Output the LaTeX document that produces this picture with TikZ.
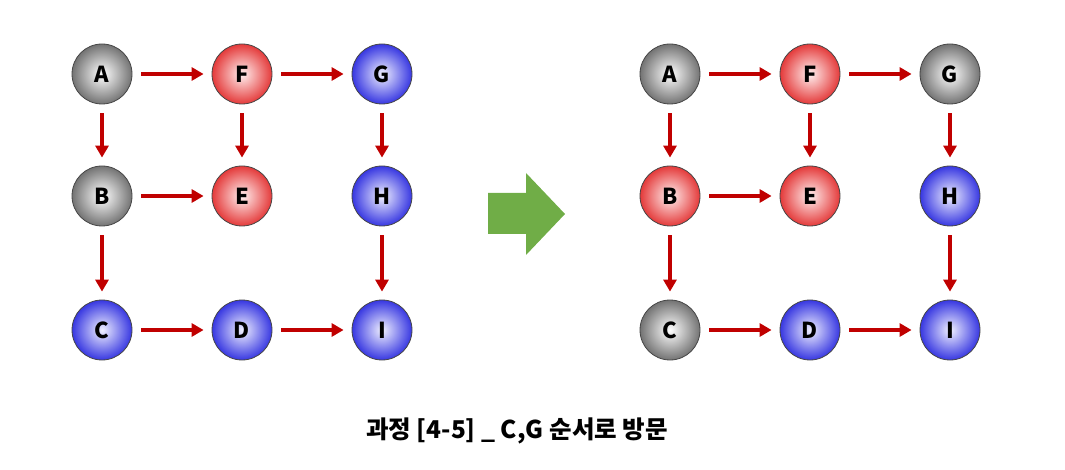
\documentclass[tikz,border=0pt]{standalone}
\usepackage{fontspec}
\newfontfamily\kr{Noto Sans CJK KR}
\usetikzlibrary{arrows.meta}
\definecolor{arrred}{RGB}{192,0,0}
\definecolor{bigarrow}{RGB}{112,173,71}
\definecolor{nodeedge}{RGB}{70,70,70}
\tikzset{
  vnode/.style={circle, minimum size=60pt, inner sep=0pt, draw=nodeedge, line width=0.8pt,
    shading=radial, font=\kr\bfseries\fontsize{22}{22}\selectfont},
  graynode/.style={vnode, inner color=white, outer color={rgb,255:red,115;green,115;blue,115}},
  rednode/.style={vnode, inner color={rgb,255:red,255;green,240;blue,240}, outer color={rgb,255:red,228;green,58;blue,58}},
  bluenode/.style={vnode, inner color={rgb,255:red,240;green,240;blue,255}, outer color={rgb,255:red,55;green,55;blue,225}},
  arr/.style={draw=arrred, line width=4pt, -{Triangle[length=12pt,width=13pt]}, shorten <=9pt, shorten >=8pt},
  titletext/.style={font=\kr\bfseries\fontsize{24.5}{24.5}\selectfont}
}
\begin{document}
\begin{tikzpicture}[x=1pt,y=-1pt]
\useasboundingbox (0,0) rectangle (1065,470);
% left graph
\node[graynode] (lA) at (102,74) {A};
\node[rednode]  (lF) at (242,74) {F};
\node[bluenode] (lG) at (382,74) {G};
\node[graynode] (lB) at (102,196) {B};
\node[rednode]  (lE) at (242,196) {E};
\node[bluenode] (lH) at (382,196) {H};
\node[bluenode] (lC) at (102,330) {C};
\node[bluenode] (lD) at (242,330) {D};
\node[bluenode] (lI) at (382,330) {I};
\draw[arr] (lA) -- (lF);
\draw[arr] (lF) -- (lG);
\draw[arr] (lA) -- (lB);
\draw[arr] (lF) -- (lE);
\draw[arr] (lG) -- (lH);
\draw[arr] (lB) -- (lE);
\draw[arr] (lB) -- (lC);
\draw[arr] (lH) -- (lI);
\draw[arr] (lC) -- (lD);
\draw[arr] (lD) -- (lI);
% right graph
\node[graynode] (rA) at (670,74) {A};
\node[rednode]  (rF) at (810,74) {F};
\node[graynode] (rG) at (950,74) {G};
\node[rednode]  (rB) at (670,196) {B};
\node[rednode]  (rE) at (810,196) {E};
\node[bluenode] (rH) at (950,196) {H};
\node[graynode] (rC) at (670,330) {C};
\node[bluenode] (rD) at (810,330) {D};
\node[bluenode] (rI) at (950,330) {I};
\draw[arr] (rA) -- (rF);
\draw[arr] (rF) -- (rG);
\draw[arr] (rA) -- (rB);
\draw[arr] (rF) -- (rE);
\draw[arr] (rG) -- (rH);
\draw[arr] (rB) -- (rE);
\draw[arr] (rB) -- (rC);
\draw[arr] (rH) -- (rI);
\draw[arr] (rC) -- (rD);
\draw[arr] (rD) -- (rI);
% big green arrow
\fill[bigarrow] (488,193) -- (526,193) -- (526,173) -- (565,214) -- (526,255) -- (526,234) -- (488,234) -- cycle;
% title
\node[titletext] (title) at (517,431) {과정 [4-5] \_ C,G 순서로 방문};
\end{tikzpicture}
\end{document}
